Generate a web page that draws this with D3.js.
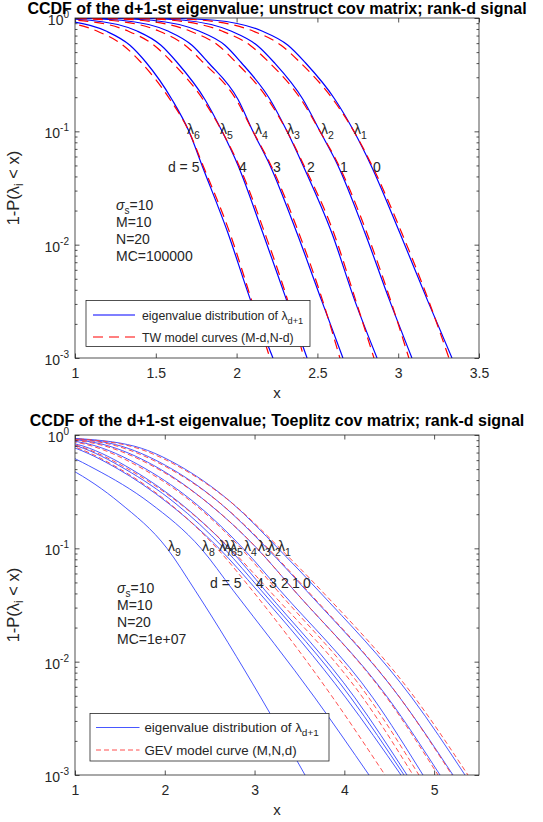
<!DOCTYPE html>
<html>
<head>
<meta charset="utf-8">
<script src="https://cdn.jsdelivr.net/npm/d3@7"></script>
<style>
  body { margin: 0; background: #fff; }
  svg text { font-family: "Liberation Sans", Arial, Helvetica, sans-serif; fill: #262626; }
</style>
</head>
<body>
<div id="chart"></div>
<script>
const topProb = [0.9995, 0.991, 0.955, 0.767, 0.575, 0.407, 0.191, 0.1, 0.05, 0.0126, 0.00316, 0.001];

// oben: Eigenwertverteilung (blau), d = 0..5
const topEig = [
  [1.370, 1.619, 1.866, 2.157, 2.318, 2.423, 2.609, 2.726, 2.832, 3.011, 3.184, 3.333],
  [1.180, 1.427, 1.675, 1.965, 2.126, 2.231, 2.411, 2.516, 2.627, 2.795, 2.949, 3.085],
  [0.980, 1.229, 1.476, 1.767, 1.928, 2.027, 2.207, 2.312, 2.411, 2.590, 2.733, 2.869],
  [0.790, 1.037, 1.285, 1.575, 1.724, 1.823, 2.009, 2.101, 2.207, 2.374, 2.528, 2.658],
  [0.600, 0.845, 1.093, 1.384, 1.532, 1.631, 1.804, 1.910, 2.009, 2.163, 2.312, 2.436],
  [0.410, 0.660, 0.907, 1.192, 1.340, 1.439, 1.600, 1.705, 1.786, 1.947, 2.089, 2.225]
];
// oben: TW-Modellkurven (rot gestrichelt), d = 0..5
const topTW = [
  [1.296, 1.545, 1.792, 2.101, 2.275, 2.392, 2.597, 2.726, 2.838, 3.023, 3.190, 3.314],
  [1.106, 1.353, 1.601, 1.909, 2.083, 2.200, 2.399, 2.516, 2.633, 2.807, 2.955, 3.066],
  [0.906, 1.155, 1.402, 1.711, 1.885, 1.996, 2.195, 2.312, 2.417, 2.602, 2.739, 2.850],
  [0.716, 0.963, 1.211, 1.519, 1.681, 1.792, 1.997, 2.101, 2.213, 2.386, 2.534, 2.639],
  [0.526, 0.771, 1.019, 1.328, 1.489, 1.600, 1.792, 1.910, 2.015, 2.175, 2.318, 2.417],
  [0.336, 0.586, 0.833, 1.136, 1.297, 1.408, 1.588, 1.705, 1.792, 1.959, 2.095, 2.206]
];
const topLambdaX = [2.726, 2.522, 2.312, 2.114, 1.897, 1.693];   // λ1..λ6 bei y = 0.1
const topDLabelX = [2.844, 2.640, 2.436, 2.225, 2.015, 1.575];   // d = 0..5
const topInfo = ['=10', 'M=10', 'N=20', 'MC=100000'];

// unten: Toeplitz
const botProb = [0.933, 0.794, 0.501, 0.251, 0.1, 0.0427, 0.00479, 0.001];
const botEig = [  // λ1..λ9
  [1.000, 1.668, 2.225, 2.749, 3.261, 3.707, 4.754, 5.344],
  [0.944, 1.523, 2.080, 2.615, 3.139, 3.573, 4.620, 5.210],
  [0.855, 1.390, 1.947, 2.481, 3.027, 3.439, 4.486, 5.066],
  [0.744, 1.245, 1.791, 2.337, 2.871, 3.283, 4.319, 4.876],
  [0.610, 1.100, 1.624, 2.170, 2.715, 3.116, 4.119, 4.698],
  [0.554, 1.033, 1.557, 2.114, 2.660, 3.072, 4.074, 4.665],
  [0.477, 0.944, 1.479, 2.036, 2.604, 3.027, 4.018, 4.631],
  [0.220, 0.666, 1.223, 1.835, 2.403, 2.760, 3.673, 4.275],
  [-0.281, 0.276, 0.944, 1.501, 2.025, 2.337, 3.072, 3.562]
];
const botGEV = [  // d = 0..5
  [0.955, 1.623, 2.203, 2.749, 3.283, 3.740, 4.787, 5.377],
  [0.899, 1.478, 2.058, 2.615, 3.150, 3.584, 4.620, 5.199],
  [0.810, 1.345, 1.925, 2.481, 3.027, 3.439, 4.475, 5.044],
  [0.699, 1.200, 1.758, 2.315, 2.849, 3.250, 4.274, 4.831],
  [0.565, 1.055, 1.591, 2.159, 2.726, 3.161, 4.208, 4.765],
  [0.498, 0.977, 1.501, 2.047, 2.582, 2.972, 3.874, 4.453]
];
const botLambdaX = [3.261, 3.150, 3.038, 2.882, 2.726, 2.660, 2.604, 2.415, 2.036]; // λ1..λ9
const botDLabelX = [3.540, 3.417, 3.294, 3.161, 3.016, 2.504];                      // d = 0..5
const botInfo = ['=10', 'M=10', 'N=20', 'MC=1e+07'];

const topXTicks = [1, 1.5, 2, 2.5, 3, 3.5];
const botXTicks = [1, 2, 3, 4, 5];
const yMajor = [1e-3, 1e-2, 1e-1, 1];
const yExp   = ['-3', '-2', '-1', '0'];

const svg = d3.select('#chart').append('svg')
  .attr('width', 543).attr('height', 822);

const panels = [
  {
    id: 'top', box: { left: 75, right: 479, top: 18, bottom: 358 }, titleY: 14,
    xDomain: [1, 3.5], xTicks: topXTicks, fmt: d3.format('~g'),
    title: 'CCDF of the d+1-st eigenvalue; unstruct cov matrix; rank-d signal',
    prob: topProb, eig: topEig, model: topTW,
    lambdaX: topLambdaX, dX: topDLabelX, dY: 0.048,
    info: topInfo, infoPos: [1.254, 0.0224],
    blue: { stroke: '#0000ff', width: 1.2 },
    red:  { stroke: '#ff0000', width: 1.2, dash: '10,6' },
    legend: { x0: 86, x1: 310, y0: 300.5, y1: 346.5, rows: [315, 337], lx: [93, 135], tx: 142, fs: 12.3,
              model: 'TW model curves (M-d,N-d)' }
  },
  {
    id: 'bot', box: { left: 75, right: 479, top: 435, bottom: 775 }, titleY: 426,
    xDomain: [1, 5.5], xTicks: botXTicks, fmt: d3.format('d'),
    title: 'CCDF of the d+1-st eigenvalue; Toeplitz cov matrix; rank-d signal',
    prob: botProb, eig: botEig, model: botGEV,
    lambdaX: botLambdaX, dX: botDLabelX, dY: 0.0494,
    info: botInfo, infoPos: [1.468, 0.0447],
    blue: { stroke: '#3344ff', width: 0.9 },
    red:  { stroke: '#ff3b3b', width: 0.9, dash: '5,3' },
    legend: { x0: 90, x1: 329, y0: 713.5, y1: 761, rows: [727.5, 750], lx: [96, 139.5], tx: 144.4, fs: 13.3,
              model: 'GEV model curve (M,N,d)' }
  }
];

panels.forEach(drawPanel);

function drawPanel(p) {
  const b = p.box;
  const x = d3.scaleLinear().domain(p.xDomain).range([b.left, b.right]);
  const y = d3.scaleLog().domain([1e-3, 1]).range([b.bottom, b.top]);
  const g = svg.append('g');

  g.append('clipPath').attr('id', p.id + 'clip')
    .append('rect')
      .attr('x', b.left).attr('y', b.top)
      .attr('width', b.right - b.left).attr('height', b.bottom - b.top);

  // Kurven
  const line = d3.line().x(d => x(d[0])).y(d => y(d[1])).curve(d3.curveMonotoneX);
  const cg = g.append('g').attr('clip-path', `url(#${p.id}clip)`).attr('fill', 'none');
  p.eig.forEach(xs => {
    cg.append('path')
      .attr('d', line(xs.map((v, i) => [v, p.prob[i]])))
      .attr('stroke', p.blue.stroke).attr('stroke-width', p.blue.width);
  });
  p.model.forEach(xs => {
    cg.append('path')
      .attr('d', line(xs.map((v, i) => [v, p.prob[i]])))
      .attr('stroke', p.red.stroke).attr('stroke-width', p.red.width)
      .attr('stroke-dasharray', p.red.dash);
  });

  // Achsen (Ticks nach innen)
  const minors = [];
  [1e-3, 1e-2, 1e-1].forEach(e => d3.range(2, 10).forEach(k => minors.push(k * e)));
  const tickStyle = s => s.call(a => a.select('.domain').remove())
    .call(a => a.selectAll('line').attr('stroke', '#262626').attr('stroke-width', 0.8));

  g.append('g').attr('transform', `translate(0,${b.bottom})`)
    .call(d3.axisBottom(x).tickValues(p.xTicks).tickSize(-4.5).tickPadding(10).tickFormat(p.fmt))
    .call(tickStyle)
    .call(a => a.selectAll('text').attr('font-size', 14).attr('fill', '#262626')
      .style('font-family', '"Liberation Sans", Arial, sans-serif'));
  g.append('g').attr('transform', `translate(0,${b.top})`)
    .call(d3.axisTop(x).tickValues(p.xTicks).tickSize(-4.5).tickFormat(''))
    .call(tickStyle);
  [[d3.axisLeft, b.left], [d3.axisRight, b.right]].forEach(([fn, pos]) => {
    g.append('g').attr('transform', `translate(${pos},0)`)
      .call(fn(y).tickValues(yMajor).tickSize(-4.5).tickFormat(''))
      .call(tickStyle);
    g.append('g').attr('transform', `translate(${pos},0)`)
      .call(fn(y).tickValues(minors).tickSize(-2.5).tickFormat(''))
      .call(tickStyle);
  });

  g.append('rect')
    .attr('x', b.left).attr('y', b.top)
    .attr('width', b.right - b.left).attr('height', b.bottom - b.top)
    .attr('fill', 'none').attr('stroke', '#262626').attr('stroke-width', 0.8);

  // y-Ticklabels 10^k
  yMajor.forEach((v, i) => {
    const t = g.append('text')
      .attr('x', b.left - 6).attr('y', y(v) + 7)
      .attr('text-anchor', 'end').attr('font-size', 14);
    t.append('tspan').text('10');
    t.append('tspan').attr('dy', -7).attr('font-size', 10).text(yExp[i]);
  });

  // Achsenbeschriftung
  g.append('text')
    .attr('x', (b.left + b.right) / 2).attr('y', b.bottom + 40)
    .attr('text-anchor', 'middle').attr('font-size', 15).text('x');
  const yl = g.append('text')
    .attr('transform', `translate(19,${(b.top + b.bottom) / 2}) rotate(-90)`)
    .attr('text-anchor', 'middle').attr('font-size', 16.5);
  yl.append('tspan').text('1-P(λ');
  yl.append('tspan').attr('dy', 4).attr('font-size', 12).text('i');
  yl.append('tspan').attr('dy', -4).text(' < x)');

  // Titel
  g.append('text')
    .attr('x', (b.left + b.right) / 2).attr('y', p.titleY)
    .attr('text-anchor', 'middle').attr('font-size', 16).attr('font-weight', 'bold')
    .style('fill', '#000')
    .text(p.title);

  // λ-Labels
  p.lambdaX.forEach((lx, i) => {
    const t = g.append('text')
      .attr('x', x(lx)).attr('y', y(0.1) + 3).attr('font-size', 14);
    t.append('tspan').text('λ');
    t.append('tspan').attr('dy', 5).attr('font-size', 10.5).text(i + 1);
  });

  // d-Labels
  p.dX.forEach((dx, i) => {
    g.append('text')
      .attr('x', x(dx)).attr('y', y(p.dY) + 5).attr('font-size', 14)
      .text(i === 5 ? 'd = 5' : String(i));
  });

  // Parameter-Text
  const ix = x(p.infoPos[0]), iy = y(p.infoPos[1]) + 5;
  p.info.forEach((s, i) => {
    const t = g.append('text').attr('x', ix).attr('y', iy + i * 17).attr('font-size', 14);
    if (i === 0) {
      t.append('tspan').attr('font-style', 'italic').text('σ');
      t.append('tspan').attr('dy', 4).attr('font-size', 10).text('s');
      t.append('tspan').attr('dy', -4).text(s);
    } else {
      t.text(s);
    }
  });

  // Legende
  const L = p.legend;
  const lg = g.append('g');
  lg.append('rect')
    .attr('x', L.x0).attr('y', L.y0).attr('width', L.x1 - L.x0).attr('height', L.y1 - L.y0)
    .attr('fill', '#fff').attr('stroke', '#262626').attr('stroke-width', 0.8);
  lg.append('line')
    .attr('x1', L.lx[0]).attr('x2', L.lx[1]).attr('y1', L.rows[0]).attr('y2', L.rows[0])
    .attr('stroke', p.blue.stroke).attr('stroke-width', p.blue.width);
  lg.append('line')
    .attr('x1', L.lx[0]).attr('x2', L.lx[1]).attr('y1', L.rows[1]).attr('y2', L.rows[1])
    .attr('stroke', p.red.stroke).attr('stroke-width', p.red.width)
    .attr('stroke-dasharray', p.red.dash);
  const t1 = lg.append('text').attr('x', L.tx).attr('y', L.rows[0] + 4.5).attr('font-size', L.fs);
  t1.append('tspan').text('eigenvalue distribution of λ');
  t1.append('tspan').attr('dy', 4).attr('font-size', L.fs * 0.75).text('d+1');
  lg.append('text').attr('x', L.tx).attr('y', L.rows[1] + 4.5).attr('font-size', L.fs).text(L.model);
}
</script>
</body>
</html>
